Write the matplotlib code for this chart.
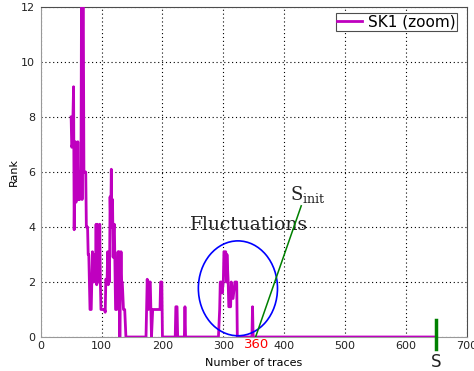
import numpy as np
import matplotlib
matplotlib.use("Agg")
import matplotlib.pyplot as plt
from matplotlib.patches import Ellipse

traces = [50, 51, 52, 54, 55, 56, 57, 58, 59, 60, 61, 62, 63, 64, 65, 66, 67, 68,
          69, 70, 71, 74, 75, 77, 78, 79, 81, 83, 85, 87, 89, 90, 91, 92, 93, 94,
          96, 97, 98, 99, 105, 106, 107, 109, 110, 111, 112, 113, 114, 115, 116,
          117, 118, 119, 120, 121, 123, 125, 127, 128, 129, 130, 131, 132, 133,
          134, 136, 138, 140, 173, 175, 177, 178, 180, 182, 184, 196, 197, 199,
          200, 221, 222, 224, 225, 236, 237, 238, 292, 294, 295, 297, 298, 300,
          301, 304, 305, 306, 308, 309, 312, 313, 316, 319, 322, 323, 347, 348,
          349, 650]
rank = [8.0, 6.9, 7.0, 9.1, 3.9, 6.0, 7.1, 4.9, 6.0, 5.0, 7.1, 5.0, 6.0, 5.0, 6.0,
        5.1, 12.0, 5.0, 12.0, 12.0, 6.0, 6.0, 4.0, 4.0, 3.0, 3.0, 1.0, 1.0, 3.1,
        2.0, 3.0, 2.0, 4.1, 1.9, 4.1, 2.0, 2.0, 4.1, 2.0, 1.0, 1.0, 0.9, 2.1, 2.0,
        3.1, 1.9, 3.0, 2.0, 5.1, 4.0, 6.1, 4.0, 5.0, 2.9, 4.0, 4.1, 1.0, 1.0, 3.1,
        2.0, 3.1, 0.0, 2.0, 3.1, 2.0, 2.0, 1.0, 1.0, 0.0, 0.0, 2.1, 1.0, 2.0, 2.0,
        0.0, 1.0, 1.0, 2.0, 2.0, 0.0, 0.0, 1.1, 1.1, 0.0, 0.0, 1.1, 0.0, 0.0, 1.0,
        2.0, 2.0, 1.6, 2.0, 3.1, 3.1, 2.0, 3.0, 2.0, 1.1, 1.1, 2.0, 1.4, 2.0, 2.0,
        0.0, 0.0, 1.1, 0.0, 0.0]

s_init = 353     # punt waar de rank 0 blijft
s_end = 650      # S
xticks = [0, 100, 200, 300, 400, 500, 600, 700]
yticks = [0, 2, 4, 6, 8, 10, 12]

fig = plt.figure(figsize=(4.74, 3.71), dpi=100)
ax = fig.add_axes([40.7/474, 34/371, 426.1/474, 330/371])

ax.plot(traces, rank, color='#bf00bf', lw=2, label='SK1 (zoom)', zorder=3)

ax.set_xlim(0, 700)
ax.set_ylim(0, 12)
ax.set_xticks(xticks)
ax.set_yticks(yticks)
ax.tick_params(length=0, labelsize=8, colors='#222222')
ax.tick_params(axis='x', pad=3)
ax.tick_params(axis='y', pad=4)
ax.grid(True, color='k', linestyle=(0, (1, 2.5)), lw=0.8)
for side in ['left', 'bottom']:
    ax.spines[side].set_color('0.6')
for side in ['top', 'right']:
    ax.spines[side].set_color('0.3')

ax.set_xlabel('Number of traces', fontsize=8, labelpad=5)
ax.set_ylabel('Rank', fontsize=8, labelpad=1.5)

# annotaties
ax.add_patch(Ellipse((324, 1.77), 130, 3.45, fill=False, color='blue', lw=1.2, zorder=4))
ax.plot([s_init, 428], [0, 4.77], color='green', lw=1.1, zorder=4)
ax.plot([s_end, s_end], [-0.44, 0.62], color='green', lw=2.5, clip_on=False, zorder=5)

ax.text(245, 3.9, 'Fluctuations', family='DejaVu Serif', fontsize=13.5, color='#222222')
ax.text(410, 4.97, r'$\mathrm{S_{init}}$', fontsize=13, color='#222222',
        math_fontfamily='dejavuserif')
ax.text(s_init + 2, -0.27, '360', color='red', fontsize=9.5, ha='center', va='center')
ax.text(s_end, -0.9, 'S', fontsize=12, ha='center', va='center', color='#222222')

leg = ax.legend(loc='upper right', bbox_to_anchor=(0.977, 0.981), borderaxespad=0,
                fontsize=11, fancybox=False, framealpha=1, borderpad=0.1,
                handlelength=1.6, handletextpad=0.4)
leg.get_frame().set_edgecolor('0.3')
leg.get_frame().set_linewidth(0.8)

plt.savefig('out.png', dpi=100)
